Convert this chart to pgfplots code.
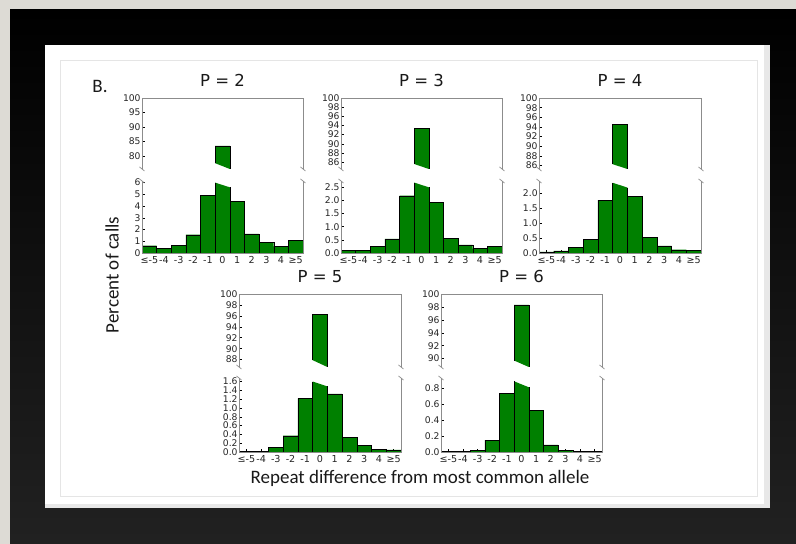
\documentclass[border=0pt]{standalone}
\usepackage{pgfplots}
\pgfplotsset{compat=1.18}
\usepackage{fontspec}
\setmainfont{DejaVu Sans}
\newfontfamily\carlito{Carlito}
\definecolor{barg}{RGB}{0,128,0}
\definecolor{spine}{RGB}{140,140,140}
\definecolor{bgout}{RGB}{221,219,213}
\definecolor{matc}{RGB}{232,232,232}
\pgfplotsset{
  brk/.style={scale only axis, xmin=-0.5, xmax=10.5, clip mode=individual,
    axis line style={draw=none},
    tick style={black, line width=0.5pt}, major tick length=3pt,
    tick align=inside, xtick pos=left, ytick pos=left,
    yticklabel style={font=\fontsize{9.2}{9.5}\selectfont, text=black!85, inner sep=1.2pt},
    xticklabel style={font=\fontsize{9.6}{10}\selectfont, text=black!85, inner sep=1pt, yshift=-2.5pt},
    /pgf/number format/assume math mode=true,
    anchor=south west},
  toppanel/.style={brk, xtick=\empty,
    title style={at={(0.5,1)}, anchor=south, yshift=5pt, inner sep=0pt,
      font=\fontsize{16.5}{18}\selectfont, text=black!90}},
  botpanel/.style={brk, xtick={0,...,10},
    xticklabels={≤-5,-4,-3,-2,-1,0,1,2,3,4,≥5}},
  dec1/.style={yticklabel style={/pgf/number format/.cd, fixed, fixed zerofill, precision=1}},
  barplot/.style={ybar, bar width=1, bar shift=0pt, fill=barg, draw=black, line width=0.4pt},
}
\newcommand\topspines{%
  \draw[spine, line width=0.8pt] (rel axis cs:0,0) -- (rel axis cs:0,1) -- (rel axis cs:1,1) -- (rel axis cs:1,0);
  \draw[spine, line width=0.7pt] (rel axis cs:0,0) ++(-2.5pt,2pt) -- ++(5pt,-4pt);
  \draw[spine, line width=0.7pt] (rel axis cs:1,0) ++(-2.5pt,2pt) -- ++(5pt,-4pt);}
\newcommand\botspines{%
  \draw[spine, line width=0.8pt] (rel axis cs:0,1) -- (rel axis cs:0,0) -- (rel axis cs:1,0) -- (rel axis cs:1,1);
  \draw[spine, line width=0.7pt] (rel axis cs:0,1) ++(-2.5pt,2pt) -- ++(5pt,-4pt);
  \draw[spine, line width=0.7pt] (rel axis cs:1,1) ++(-2.5pt,2pt) -- ++(5pt,-4pt);}
\begin{document}
\begin{tikzpicture}
% frame and mat
\fill[bgout] (0,0) rectangle (796pt,544pt);
\shade[top color=black, bottom color=black!87] (10pt,0pt) rectangle (796pt,534pt);
\fill[matc] (45pt,36pt) rectangle (770pt,499pt);
\fill[white] (45pt,40pt) rectangle (764pt,499pt);
\draw[black!10, line width=0.6pt] (60pt,48pt) rectangle (757pt,484pt);

% ---------------- P = 2 ----------------
\begin{axis}[toppanel, at={(142pt,375pt)}, width=161pt, height=71pt,
  ymin=75.5, ymax=100, ytick={80,85,90,95,100}, title={P = 2}]
  \addplot[fill=barg, draw=none] coordinates {(4.5,77.5) (4.5,83.5) (5.5,83.5) (5.5,75.5)} -- cycle;
  \addplot[black, line width=0.4pt] coordinates {(4.5,77.5) (4.5,83.5) (5.5,83.5) (5.5,75.5)};
  \topspines
\end{axis}
\begin{axis}[botpanel, at={(142pt,291pt)}, width=161pt, height=72pt,
  ymin=0, ymax=6.14, ytick={0,1,2,3,4,5,6}]
  \addplot[barplot] coordinates {(0,0.62) (1,0.37) (2,0.65) (3,1.56) (4,4.9) (6,4.39) (7,1.64) (8,0.88) (9,0.57) (10,1.1)};
  \addplot[fill=barg, draw=none] coordinates {(4.5,0) (4.5,6.0) (5.5,5.6) (5.5,0)} -- cycle;
  \addplot[black, line width=0.4pt] coordinates {(4.5,0) (4.5,6.0)};
  \addplot[black, line width=0.4pt] coordinates {(5.5,5.6) (5.5,0)};
  \botspines
\end{axis}

% ---------------- P = 3 ----------------
\begin{axis}[toppanel, at={(341pt,375pt)}, width=161pt, height=71pt,
  ymin=84.5, ymax=100, ytick={86,88,...,100}, title={P = 3}]
  \addplot[fill=barg, draw=none] coordinates {(4.5,85.6) (4.5,93.4) (5.5,93.4) (5.5,84.5)} -- cycle;
  \addplot[black, line width=0.4pt] coordinates {(4.5,85.6) (4.5,93.4) (5.5,93.4) (5.5,84.5)};
  \topspines
\end{axis}
\begin{axis}[botpanel, dec1, at={(341pt,291pt)}, width=161pt, height=72pt,
  ymin=0, ymax=2.74, ytick={0,0.5,...,2.5}]
  \addplot[barplot] coordinates {(0,0.09) (1,0.10) (2,0.26) (3,0.54) (4,2.18) (6,1.94) (7,0.57) (8,0.31) (9,0.17) (10,0.26)};
  \addplot[fill=barg, draw=none] coordinates {(4.5,0) (4.5,2.68) (5.5,2.5) (5.5,0)} -- cycle;
  \addplot[black, line width=0.4pt] coordinates {(4.5,0) (4.5,2.68)};
  \addplot[black, line width=0.4pt] coordinates {(5.5,2.5) (5.5,0)};
  \botspines
\end{axis}

% ---------------- P = 4 ----------------
\begin{axis}[toppanel, at={(539pt,375pt)}, width=162pt, height=71pt,
  ymin=85.3, ymax=100, ytick={86,88,...,100}, title={P = 4}]
  \addplot[fill=barg, draw=none] coordinates {(4.5,86.3) (4.5,94.6) (5.5,94.6) (5.5,85.3)} -- cycle;
  \addplot[black, line width=0.4pt] coordinates {(4.5,86.3) (4.5,94.6) (5.5,94.6) (5.5,85.3)};
  \topspines
\end{axis}
\begin{axis}[botpanel, dec1, at={(539pt,291pt)}, width=162pt, height=72pt,
  ymin=0, ymax=2.42, ytick={0,0.5,...,2.0}]
  \addplot[barplot] coordinates {(0,0.04) (1,0.07) (2,0.18) (3,0.46) (4,1.78) (6,1.91) (7,0.52) (8,0.24) (9,0.11) (10,0.09)};
  \addplot[fill=barg, draw=none] coordinates {(4.5,0) (4.5,2.36) (5.5,2.2) (5.5,0)} -- cycle;
  \addplot[black, line width=0.4pt] coordinates {(4.5,0) (4.5,2.36)};
  \addplot[black, line width=0.4pt] coordinates {(5.5,2.2) (5.5,0)};
  \botspines
\end{axis}

% ---------------- P = 5 ----------------
\begin{axis}[toppanel, at={(239pt,177pt)}, width=162pt, height=73pt,
  ymin=86.65, ymax=100, ytick={88,90,...,100}, title={P = 5}]
  \addplot[fill=barg, draw=none] coordinates {(4.5,87.9) (4.5,96.3) (5.5,96.3) (5.5,86.65)} -- cycle;
  \addplot[black, line width=0.4pt] coordinates {(4.5,87.9) (4.5,96.3) (5.5,96.3) (5.5,86.65)};
  \topspines
\end{axis}
\begin{axis}[botpanel, dec1, at={(239pt,92pt)}, width=162pt, height=74pt,
  ymin=0, ymax=1.68, ytick={0,0.2,...,1.6}]
  \addplot[barplot] coordinates {(0,0.015) (1,0.02) (2,0.11) (3,0.37) (4,1.22) (6,1.32) (7,0.34) (8,0.15) (9,0.06) (10,0.05)};
  \addplot[fill=barg, draw=none] coordinates {(4.5,0) (4.5,1.6) (5.5,1.49) (5.5,0)} -- cycle;
  \addplot[black, line width=0.4pt] coordinates {(4.5,0) (4.5,1.6)};
  \addplot[black, line width=0.4pt] coordinates {(5.5,1.49) (5.5,0)};
  \botspines
\end{axis}

% ---------------- P = 6 ----------------
\begin{axis}[toppanel, at={(441pt,177pt)}, width=161pt, height=73pt,
  ymin=88.7, ymax=100, ytick={90,92,...,100}, title={P = 6}]
  \addplot[fill=barg, draw=none] coordinates {(4.5,89.7) (4.5,98.33) (5.5,98.33) (5.5,88.7)} -- cycle;
  \addplot[black, line width=0.4pt] coordinates {(4.5,89.7) (4.5,98.33) (5.5,98.33) (5.5,88.7)};
  \topspines
\end{axis}
\begin{axis}[botpanel, dec1, at={(441pt,92pt)}, width=161pt, height=74pt,
  ymin=0, ymax=0.926, ytick={0,0.2,...,0.8}]
  \addplot[barplot] coordinates {(0,0.004) (1,0.004) (2,0.025) (3,0.15) (4,0.73) (6,0.52) (7,0.09) (8,0.02) (9,0.005) (10,0.005)};
  \addplot[fill=barg, draw=none] coordinates {(4.5,0) (4.5,0.884) (5.5,0.81) (5.5,0)} -- cycle;
  \addplot[black, line width=0.4pt] coordinates {(4.5,0) (4.5,0.884)};
  \addplot[black, line width=0.4pt] coordinates {(5.5,0.81) (5.5,0)};
  \botspines
\end{axis}

% labels
\node[font=\carlito\fontsize{19}{21}\selectfont, text=black!90] at (100pt,458pt) {B.};
\node[font=\carlito\fontsize{19}{21}\selectfont, text=black!90, rotate=90] at (112pt,269pt) {Percent of calls};
\node[font=\carlito\fontsize{19}{21}\selectfont, text=black!90] at (420pt,66pt) {Repeat difference from most common allele};

\pgfresetboundingbox
\path (0,0) rectangle (796pt,544pt);
\end{tikzpicture}
\end{document}
